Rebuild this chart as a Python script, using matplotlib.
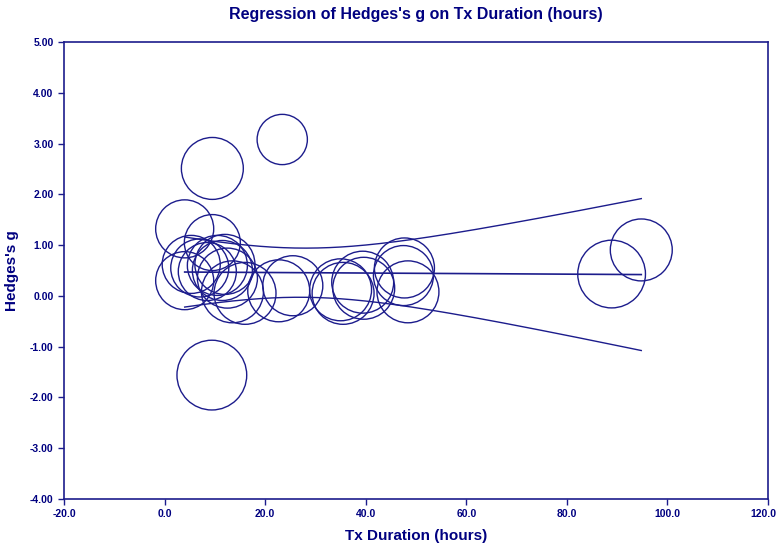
import numpy as np
import matplotlib
matplotlib.use("Agg")
import matplotlib.pyplot as plt
from matplotlib import transforms

# ---- data ----
duration = [9.5, 23.4, 9.4, 94.8, 88.9, 4.0, 9.5, 4.0, 5.3, 7.0, 8.5, 10.5, 11.5,
            12.0, 12.5, 13.5, 16.0, 22.7, 25.5, 35.0, 35.5, 39.4, 39.6, 47.7, 48.4, 47.5]
hedges_g = [2.51, 3.08, -1.56, 0.905, 0.43, 1.32, 1.05, 0.30, 0.62, 0.55, 0.48, 0.60, 0.50,
            0.62, 0.35, 0.08, 0.05, 0.10, 0.20, 0.12, 0.05, 0.27, 0.15, 0.55, 0.08, 0.40]
rel_weight = [4.1, 2.7, 5.2, 4.1, 4.9, 3.6, 3.35, 3.6, 3.6, 3.6, 3.6, 3.85, 3.85,
              3.85, 3.85, 4.1, 4.1, 4.1, 3.85, 4.1, 4.1, 4.1, 4.1, 3.85, 4.1, 3.85]

# meta-regression coefficients
intercept = 0.472
slope = -0.00055
var_intercept = 0.1472
cov_int_slope = -0.003146
var_slope = 0.0001148
z_crit = 1.96

x_ticks = [-20.0, 0.0, 20.0, 40.0, 60.0, 80.0, 100.0, 120.0]
y_ticks = [-4.0, -3.0, -2.0, -1.0, 0.0, 1.0, 2.0, 3.0, 4.0, 5.0]

navy_text = "#000080"
navy_line = "#1c1c8c"

plt.rcParams["font.family"] = ["Liberation Sans", "DejaVu Sans"]

fig = plt.figure(figsize=(7.77, 5.46), dpi=100)
ax = fig.add_axes([64 / 777, 1 - 499 / 546, (768 - 64) / 777, (499 - 42) / 546])

ax.scatter(duration, hedges_g, s=np.array(rel_weight) * 485, facecolors="none",
           edgecolors=navy_line, linewidths=1.0, zorder=3)

xs = np.linspace(min(duration), max(duration), 200)
pred = intercept + slope * xs
se = np.sqrt(var_intercept + 2 * cov_int_slope * xs + var_slope * xs ** 2)
ax.plot(xs, pred, color=navy_line, lw=1.2, zorder=4)
ax.plot(xs, pred + z_crit * se, color=navy_line, lw=1.0, zorder=4)
ax.plot(xs, pred - z_crit * se, color=navy_line, lw=1.0, zorder=4)

ax.set_xlim(-20, 120)
ax.set_ylim(-4, 5)
ax.set_xticks(x_ticks)
ax.set_yticks(y_ticks)
ax.set_xticklabels([f"{v:.1f}" for v in x_ticks])
ax.set_yticklabels([f"{v:.2f}" for v in y_ticks])
for sp in ax.spines.values():
    sp.set_color(navy_line)
    sp.set_linewidth(1.2)
ax.tick_params(direction="out", length=4, width=1, colors=navy_line,
               labelcolor=navy_text, labelsize=7.5)
for lab in ax.get_xticklabels() + ax.get_yticklabels():
    lab.set_fontweight("bold")
last = ax.get_xticklabels()[-1]
last.set_transform(last.get_transform() + transforms.ScaledTranslation(-5 / 100, 0, fig.dpi_scale_trans))

ax.set_xlabel("Tx Duration (hours)", fontsize=11, fontweight="bold", color=navy_text, labelpad=7)
ax.set_ylabel("Hedges's g", fontsize=11, fontweight="bold", color=navy_text, labelpad=8)
fig.text(0.5 * (64 + 768) / 777, 1 - 15 / 546, "Regression of Hedges's g on Tx Duration (hours)",
         ha="center", va="center", fontsize=11.5, fontweight="bold", color=navy_text)

fig.savefig("out.png", dpi=100)
